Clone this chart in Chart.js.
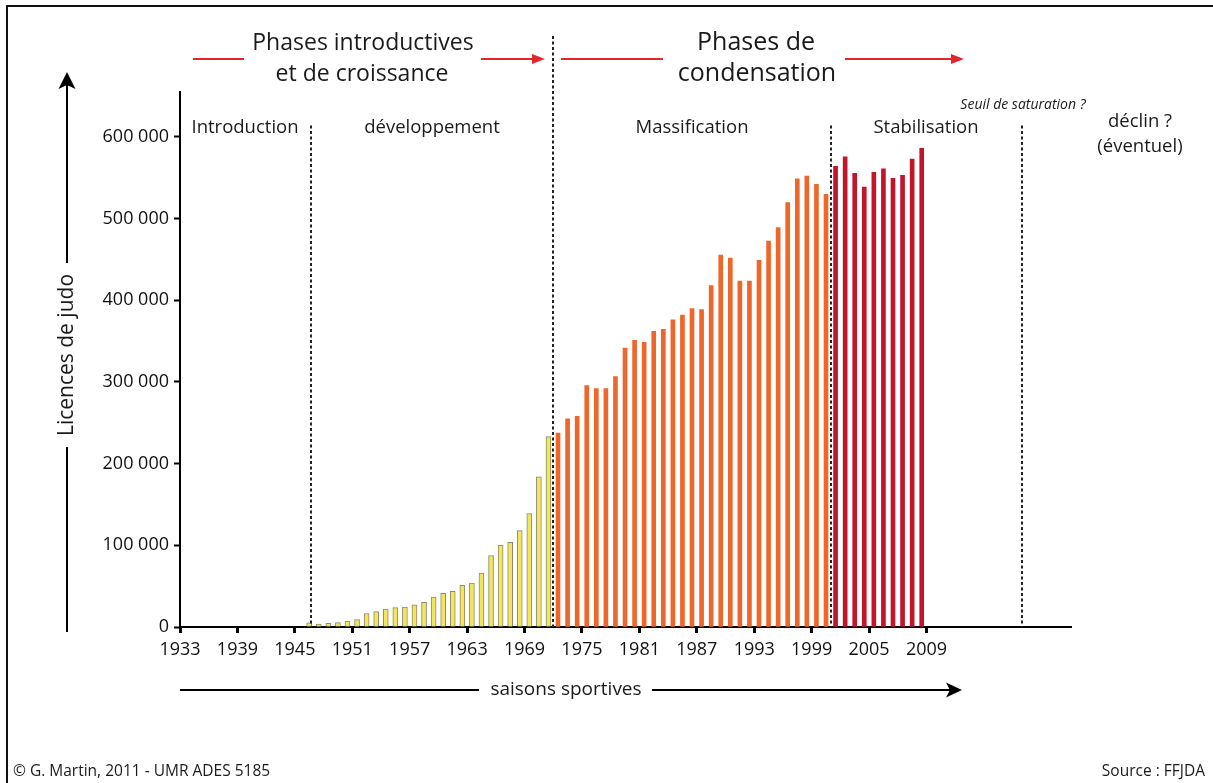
<!DOCTYPE html>
<html><head><meta charset="utf-8">
<script src="https://cdn.jsdelivr.net/npm/chart.js@4.4.0/dist/chart.umd.min.js"></script>
<style>html,body{margin:0;padding:0;background:#fff;}#wrap{position:relative;width:1213px;height:783px;}canvas{display:block;}</style>
</head><body><div id="wrap"><canvas id="c" width="1213" height="783"></canvas></div>
<script>
// ---- DATA ----
const introSeasons = [1946,1947,1948,1949,1950,1951,1952,1953,1954,1955,1956,1957,1958,1959,1960,1961,1962,1963,1964,1965,1966,1967,1968,1969,1970,1971];
const introValues  = [5000,3700,4500,5400,7300,9000,16400,18800,22000,23700,24500,27000,30200,36700,41200,43700,51000,53900,66000,87400,100400,103700,118000,138800,184000,233000];
const massSeasons  = [1972,1973,1974,1975,1976,1977,1978,1979,1980,1981,1982,1983,1984,1985,1986,1987,1988,1989,1990,1991,1992,1993,1994,1995,1996,1997,1998,1999,2000];
const massValues   = [237500,255000,258000,295500,291800,291800,306500,341500,351000,348500,362000,364400,376000,382000,389700,388500,418000,455300,451700,423500,423500,449000,472500,489000,519500,548800,552000,542000,529600];
const stabSeasons  = [2001,2002,2003,2004,2005,2006,2007,2008,2009,2010];
const stabValues   = [564000,575700,555500,538700,556700,561000,549400,552900,573000,586000];
const xTickYears   = [1933,1939,1945,1951,1957,1963,1969,1975,1981,1987,1993,1999,2005,2011];
const xTickLabels  = ['1933','1939','1945','1951','1957','1963','1969','1975','1981','1987','1993','1999','2005','2009'];
const yTickValues  = [0,100000,200000,300000,400000,500000,600000];
const phaseBounds  = [1946.7, 1972, 2001, 2021];

const FONT = '"Open Sans", "Noto Sans", sans-serif';
const toPts = (s, v) => s.map((yr, i) => ({x: yr + 0.5, y: v[i]}));
const fmt = v => String(v).replace(/\B(?=(\d{3})+(?!\d))/g, ' ');

function arrowHead(ctx, tipX, tipY, dir, len, half, notch, color) {
  ctx.save(); ctx.fillStyle = color; ctx.beginPath();
  if (dir === 'up') {
    ctx.moveTo(tipX, tipY); ctx.lineTo(tipX + half, tipY + len);
    ctx.lineTo(tipX, tipY + len - notch); ctx.lineTo(tipX - half, tipY + len);
  } else {
    ctx.moveTo(tipX, tipY); ctx.lineTo(tipX - len, tipY - half);
    ctx.lineTo(tipX - len + notch, tipY); ctx.lineTo(tipX - len, tipY + half);
  }
  ctx.closePath(); ctx.fill(); ctx.restore();
}
function hline(ctx, x1, x2, y, w, color) {
  ctx.save(); ctx.strokeStyle = color; ctx.lineWidth = w; ctx.beginPath();
  ctx.moveTo(x1, y); ctx.lineTo(x2, y); ctx.stroke(); ctx.restore();
}
function vline(ctx, x, y1, y2, w, color, dash) {
  ctx.save(); ctx.strokeStyle = color; ctx.lineWidth = w; if (dash) ctx.setLineDash(dash);
  ctx.beginPath(); ctx.moveTo(x, y1); ctx.lineTo(x, y2); ctx.stroke(); ctx.restore();
}
function txt(ctx, s, x, y, size, align, style) {
  ctx.save(); ctx.fillStyle = '#1a1a1a'; ctx.font = (style || '') + ' ' + size + 'px ' + FONT;
  ctx.textAlign = align || 'center'; ctx.textBaseline = 'middle'; ctx.fillText(s, x, y); ctx.restore();
}

const decor = {
  id: 'decor',
  beforeDraw(chart) {
    const ctx = chart.ctx;
    ctx.save(); ctx.fillStyle = '#fff'; ctx.fillRect(0, 0, chart.width, chart.height);
    ctx.strokeStyle = '#111'; ctx.lineWidth = 2; ctx.strokeRect(7, 6, 1400, 1000); ctx.restore();
  },
  afterDatasetsDraw(chart) {
    const ctx = chart.ctx, xs = chart.scales.x, ys = chart.scales.y;
    const bottom = ys.getPixelForValue(0), topInner = ys.getPixelForValue(614000);
    phaseBounds.forEach((b, i) => {
      const px = Math.round(xs.getPixelForValue(b));
      vline(ctx, px, i === 1 ? 36 : topInner, bottom, 2, '#222', [3, 2.5]);
    });
  },
  afterDraw(chart) {
    const ctx = chart.ctx;
    txt(ctx, 'Phases introductives', 363, 43, 23);
    txt(ctx, 'et de croissance', 362, 74, 23);
    txt(ctx, 'Phases de', 756, 43, 25);
    txt(ctx, 'condensation', 757, 74, 25);
    const red = '#e3262d';
    hline(ctx, 193, 244, 59, 2, red);
    hline(ctx, 481, 534, 59, 2, red); arrowHead(ctx, 545, 59, 'right', 13, 5, 0, red);
    hline(ctx, 561, 663, 59, 2, red);
    hline(ctx, 845, 952, 59, 2, red); arrowHead(ctx, 964, 59, 'right', 13, 5, 0, red);
    txt(ctx, 'Introduction', 245, 128, 18.5);
    txt(ctx, 'développement', 432, 128, 18.5);
    txt(ctx, 'Massification', 692, 128, 18.5);
    txt(ctx, 'Stabilisation', 926, 128, 18.5);
    txt(ctx, 'Seuil de saturation ?', 1023, 105, 14, 'center', 'italic');
    txt(ctx, 'déclin ?', 1140, 122, 18.5);
    txt(ctx, '(éventuel)', 1140, 147, 18.5);
    vline(ctx, 67, 632, 447, 2, '#000');
    vline(ctx, 67, 263, 84, 2, '#000');
    arrowHead(ctx, 67, 72, 'up', 17, 8.5, 4, '#000');
    ctx.save(); ctx.translate(67, 355); ctx.rotate(-Math.PI / 2);
    txt(ctx, 'Licences de judo', 0, 0, 21); ctx.restore();
    hline(ctx, 180, 479, 690, 2, '#000');
    hline(ctx, 652, 952, 690, 2, '#000');
    arrowHead(ctx, 962, 690, 'right', 16, 7.5, 4, '#000');
    txt(ctx, 'saisons sportives', 566, 690, 19);
    txt(ctx, '© G. Martin, 2011 - UMR ADES 5185', 13, 772, 15.5, 'left');
    txt(ctx, 'Source : FFJDA', 1205, 772, 15.5, 'right');
  }
};

new Chart(document.getElementById('c'), {
  type: 'bar',
  data: {
    datasets: [
      {label: 'Introduction / développement', data: toPts(introSeasons, introValues),
       backgroundColor: '#f3e65f', borderColor: '#8c8a6a', borderWidth: 1, borderSkipped: 'bottom', barThickness: 5},
      {label: 'Massification', data: toPts(massSeasons, massValues),
       backgroundColor: '#ee662a', borderWidth: 0, barThickness: 4},
      {label: 'Stabilisation', data: toPts(stabSeasons, stabValues),
       backgroundColor: '#c0152b', borderWidth: 0, barThickness: 4}
    ]
  },
  options: {
    responsive: false, animation: false, devicePixelRatio: 1,
    layout: {padding: {left: 0, top: 92, right: 142, bottom: 116}},
    plugins: {legend: {display: false}, tooltip: {enabled: false}},
    datasets: {bar: {grouped: false}},
    scales: {
      x: {
        type: 'linear', min: 1933, max: 2026.1, offset: false,
        afterBuildTicks: s => { s.ticks = xTickYears.map(v => ({value: v})); },
        afterFit: s => { s.height = 40; },
        grid: {offset: false, drawOnChartArea: false, drawTicks: true, tickLength: 6, tickWidth: 3, tickColor: '#000'},
        border: {display: true, color: '#000', width: 2},
        ticks: {autoSkip: false, maxRotation: 0, padding: 6, color: '#111',
                font: {family: FONT, size: 18}, callback: (v, i) => xTickLabels[i]}
      },
      y: {
        min: 0, max: 655000,
        afterBuildTicks: s => { s.ticks = yTickValues.map(v => ({value: v})); },
        afterFit: s => { s.width = 180; },
        grid: {drawOnChartArea: false, drawTicks: true, tickLength: 6, tickWidth: 2, tickColor: '#000'},
        border: {display: true, color: '#000', width: 2},
        ticks: {padding: 5, color: '#111', font: {family: FONT, size: 18}, callback: v => fmt(v)}
      }
    }
  },
  plugins: [decor]
});
</script></body></html>
